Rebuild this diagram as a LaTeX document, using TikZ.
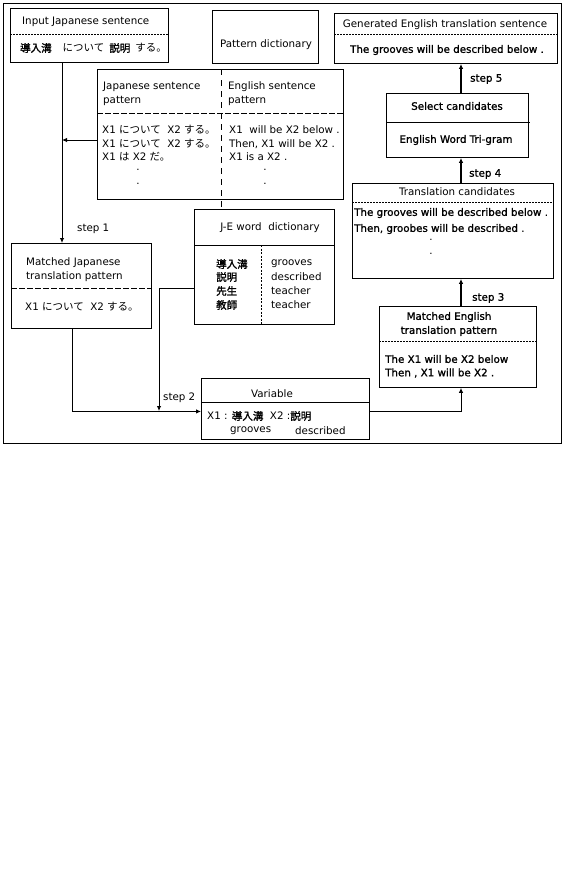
\documentclass[tikz,border=0pt]{standalone}
\usepackage{fontspec}
\setmainfont{DejaVu Sans}
\newfontfamily\jpfont{Noto Sans CJK JP}
\newfontfamily\jpbfont[FakeBold=1.5]{Noto Sans CJK JP}
\newfontfamily\fbfont[FakeBold=1.2]{DejaVu Sans}
\newcommand\jtx[1]{{\fontsize{10.5}{12}\jpfont #1}}
\newcommand\jbtx[1]{{\fontsize{10.5}{12}\jpbfont #1}}
\usetikzlibrary{arrows.meta}
\begin{document}
\begin{tikzpicture}[x=1pt,y=-1pt,
  box/.style={draw, line width=0.9pt, inner sep=0pt, anchor=north west},
  lt/.style={inner sep=0pt, anchor=west, font=\fontsize{10.3}{12}\selectfont},
  ct/.style={inner sep=0pt, font=\fontsize{10.3}{12}\selectfont},
  bt/.style={inner sep=0pt, anchor=west, font=\fontsize{10.3}{12}\fbfont},
  bct/.style={inner sep=0pt, font=\fontsize{10.3}{12}\fbfont},
  ln/.style={line width=0.9pt},
  dotsep/.style={line width=0.7pt, dash pattern=on 2pt off 1pt},
  dashsep/.style={line width=0.8pt, dash pattern=on 6pt off 2pt},
  vdash/.style={line width=0.8pt, dash pattern=on 6pt off 5pt},
  vdot/.style={line width=0.8pt, dash pattern=on 2pt off 1.5pt},
  arr/.style={line width=0.9pt, -{Latex[length=5pt,width=4.5pt]}},
  thick arr/.style={line width=1.5pt, -{Latex[length=5pt,width=4.5pt]}}
]
\useasboundingbox (0,0) rectangle (563,879);
\fill[white] (0,0) rectangle (563,879);

% outer frame
\node[box, minimum width=558pt, minimum height=440pt] (frame) at (3,3) {};

% boxes
\node[box, minimum width=158pt, minimum height=54pt] (input) at (10,8) {};
\node[box, minimum width=106pt, minimum height=53pt] (pdict) at (212,10) {};
\node[box, minimum width=223pt, minimum height=50pt] (gen) at (334,13) {};
\node[box, minimum width=246pt, minimum height=130pt] (ptab) at (97,69) {};
\node[box, minimum width=142pt, minimum height=64pt] (sel) at (386,93) {};
\node[box, minimum width=201pt, minimum height=95pt] (tc) at (352,183) {};
\node[box, minimum width=140pt, minimum height=115pt] (je) at (194,209) {};
\node[box, minimum width=140pt, minimum height=85pt] (mj) at (11,243) {};
\node[box, minimum width=157pt, minimum height=81pt] (me) at (379,306) {};
\node[box, minimum width=168pt, minimum height=61pt] (var) at (201,378) {};

% separators
\draw[dotsep] (input.west |- 0,34) -- (input.east |- 0,34);
\draw[dotsep] (gen.west |- 0,34) -- (gen.east |- 0,34);
\draw[dashsep] (ptab.west |- 0,113) -- (ptab.east |- 0,113);
\draw[vdash] (221,69) -- (221,209);
\draw[ln] (je.west |- 0,245) -- (je.east |- 0,245);
\draw[vdot] (261,245) -- (261,324);
\draw[dashsep] (mj.west |- 0,288) -- (mj.east |- 0,288);
\draw[ln] (var.west |- 0,402) -- (var.east |- 0,402);
\draw[dotsep] (me.west |- 0,341) -- (me.east |- 0,341);
\draw[dotsep] (tc.west |- 0,202) -- (tc.east |- 0,202);
\draw[ln] (sel.west |- 0,122) -- (530,122);

% texts: input
\node[lt] (t1) at (22,22) {Input Japanese sentence};
\node[lt] (t2) at (20,48) {\jbtx{導入溝}\hspace{11pt}\jtx{について}\hspace{5pt}\jbtx{説明}\hspace{5pt}\jtx{する。}};
% pattern dictionary
\node[ct] (t3) at (266,45) {Pattern dictionary};
% generated
\node[ct] (t4) at (445,25) {Generated English translation sentence};
\node[bct] (t5) at (447,50) {The grooves will be described below .};
% pattern table
\node[lt] (t6) at (103,87) {Japanese sentence};
\node[lt] (t7) at (103,101) {pattern};
\node[lt] (t8) at (228,87) {English sentence};
\node[lt] (t9) at (228,101) {pattern};
\node[lt] (t10) at (102,130) {X1 \jtx{について}\ \ X2 \jtx{する。}};
\node[lt] (t11) at (102,144) {X1 \jtx{について}\ \ X2 \jtx{する。}};
\node[lt] (t12) at (102,157) {X1 \jtx{は} X2 \jtx{だ。}};
\node[ct] (t13) at (138,170) {.};
\node[ct] (t14) at (138,184) {.};
\node[lt] (t15) at (229,130) {X1\ \ will be X2 below .};
\node[lt] (t16) at (229,144) {Then, X1 will be X2 .};
\node[lt] (t17) at (229,157) {X1 is a X2 .};
\node[ct] (t18) at (265,170) {.};
\node[ct] (t19) at (265,184) {.};
% J-E dictionary
\node[ct] (t20) at (270,228) {J-E word\ \ dictionary};
\node[lt] (t21) at (216,264) {\jbtx{導入溝}};
\node[lt] (t22) at (216,277) {\jbtx{説明}};
\node[lt] (t23) at (216,291) {\jbtx{先生}};
\node[lt] (t24) at (216,305) {\jbtx{教師}};
\node[lt] (t25) at (271,264) {grooves};
\node[lt] (t26) at (271,277) {described};
\node[lt] (t27) at (271,291) {teacher};
\node[lt] (t28) at (271,305) {teacher};
% matched Japanese
\node[lt] (t29) at (26,263) {Matched Japanese};
\node[lt] (t30) at (26,277) {translation pattern};
\node[lt] (t31) at (25,307) {X1 \jtx{について}\ \ X2 \jtx{する。}};
% variable
\node[ct] (t32) at (272,394) {Variable};
\node[lt] (t33) at (207,416) {X1 : \jbtx{導入溝}\ \ X2 :\jbtx{説明}};
\node[lt] (t34) at (230,431) {grooves};
\node[lt] (t35) at (295,431) {described};
% matched English
\node[bct] (t36) at (449,317) {Matched English};
\node[bct] (t37) at (449,331) {translation pattern};
\node[bt] (t38) at (385,359) {The X1 will be X2 below};
\node[bt] (t39) at (385,373) {Then , X1 will be X2 .};
% translation candidates
\node[ct] (t40) at (457,192) {Translation candidates};
\node[bt] (t41) at (354,213) {The grooves will be described below .};
\node[bt] (t42) at (354,229) {Then, groobes will be described .};
\node[ct] (t43) at (431,240) {.};
\node[ct] (t44) at (431,254) {.};
% select candidates
\node[bct] (t45) at (457,106) {Select candidates};
\node[bct] (t46) at (456,140) {English Word Tri-gram};

% step labels
\node[lt] (s1) at (77,229) {step 1};
\node[lt] (s2) at (163,398) {step 2};
\node[bt] (s3) at (472,298) {step 3};
\node[bt] (s4) at (469,174) {step 4};
\node[bt] (s5) at (470,79) {step 5};

% junction coordinates
\coordinate (jn) at (62,140);
\coordinate (j2) at (159,411);
\coordinate (ax) at (461,0);

% connectors
\draw[arr] ([xshift=52pt]input.south west) -- ([xshift=51pt]mj.north west);
\draw[arr] (ptab.west |- jn) -- (jn);
\draw[arr] ([xshift=61pt]mj.south west) |- ([yshift=-2.5pt]var.west);
\draw[arr] ([yshift=-21.5pt]je.west) -| (j2);
\draw[arr] ([yshift=-2.5pt]var.east) -| (ax |- me.south);
\draw[thick arr] (ax |- me.north) -- (ax |- tc.south);
\draw[thick arr] (ax |- tc.north) -- (ax |- sel.south);
\draw[thick arr] (ax |- sel.north) -- (ax |- gen.south);
\end{tikzpicture}
\end{document}
